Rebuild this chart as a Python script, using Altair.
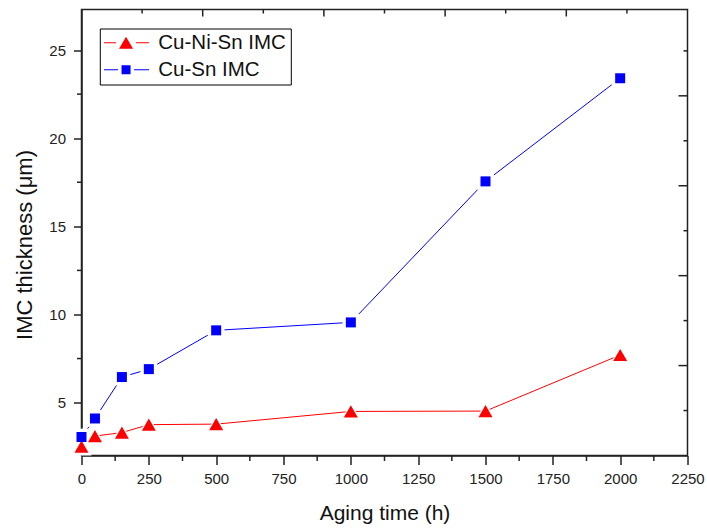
import altair as alt
import pandas as pd

# ---------------- data ----------------
aging_time = [0, 50, 150, 250, 500, 1000, 1500, 2000]
cu_ni_sn_thickness = [2.5, 3.1, 3.3, 3.75, 3.78, 4.5, 4.52, 7.7]
cu_sn_thickness = [3.05, 4.1, 6.45, 6.9, 9.1, 9.55, 17.55, 23.4]
series_names = ["Cu-Ni-Sn IMC", "Cu-Sn IMC"]
series_colors = ["#ff0000", "#0000ff"]

x_major_ticks = [0, 250, 500, 750, 1000, 1250, 1500, 1750, 2000, 2250]
x_minor_ticks = [125, 375, 625, 875, 1125, 1375, 1625, 1875, 2125]
y_major_ticks = [5, 10, 15, 20, 25]
y_minor_ticks = [2.5, 7.5, 12.5, 17.5, 22.5]
top_major_ticks = [500, 1000, 1500, 2000]
top_minor_ticks = [250, 750, 1250, 1750, 2250]
right_major_ticks = [5, 10, 15, 20]
right_minor_ticks = [2.5, 7.5, 12.5, 17.5, 22.5]

# ---------------- styles ----------------
W, H = 606, 446
AX = "#222222"
FONT = "Liberation Sans"
legend_paths = [
    "M-1,-0.06H0.2V0.06H-1Z M2.2,-0.06H3.5V0.06H2.2Z M1.2,-0.6L0.5,0.6L1.9,0.6Z",
    "M-1,-0.06H0.4V0.06H-1Z M2.0,-0.06H3.5V0.06H2.0Z M0.75,-0.45H1.65V0.45H0.75Z",
]

df = pd.DataFrame({
    "time": aging_time * 2,
    "thickness": cu_ni_sn_thickness + cu_sn_thickness,
    "series": [series_names[0]] * len(aging_time) + [series_names[1]] * len(aging_time),
})

x_scale = alt.Scale(domain=[0, 2250], nice=False, zero=False)
y_scale = alt.Scale(domain=[2, 27.3], nice=False, zero=False)
color_scale = alt.Scale(domain=series_names, range=series_colors)

x_axis = alt.Axis(
    values=x_major_ticks, title="Aging time (h)", format="d",
    titleFontSize=21, titleFontWeight="normal", titleColor="#111111", titleFont=FONT,
    titleY=64, titleBaseline="alphabetic",
    labelFontSize=15, labelColor=AX, labelFont=FONT, labelPadding=7,
    labelFlush=False, labelOverlap=False,
    tickSize=9, tickWidth=1.5, tickColor=AX,
    domainColor=AX, domainWidth=1.5, grid=False,
)
y_axis = alt.Axis(
    values=y_major_ticks, title="IMC thickness (μm)",
    titleFontSize=22, titleFontWeight="normal", titleColor="#111111", titleFont=FONT,
    titleAngle=-90, titleX=-50.5, titleY=235, titleBaseline="alphabetic", titleAlign="center",
    labelFontSize=15, labelColor=AX, labelFont=FONT, labelPadding=8,
    labelFlush=False, labelOverlap=False,
    tickSize=8, tickWidth=1.5, tickColor=AX,
    domainColor=AX, domainWidth=1.5, grid=False,
)

def X():
    return alt.X("time:Q", scale=x_scale, axis=x_axis)

def Y():
    return alt.Y("thickness:Q", scale=y_scale, axis=y_axis)

# minor ticks (left, bottom)
left_minor = alt.Chart(pd.DataFrame({"thickness": y_minor_ticks})).mark_rule(
    color=AX, strokeWidth=1.5
).encode(y=Y(), x=alt.value(-4.5), x2=alt.value(0))

bottom_minor = alt.Chart(pd.DataFrame({"time": x_minor_ticks})).mark_rule(
    color=AX, strokeWidth=1.5
).encode(x=X(), y=alt.value(H), y2=alt.value(H + 5.5))

layers = [left_minor, bottom_minor]

shapes = ["triangle-up", "square"]
sizes = [196, 100]
halo_sizes = [420, 280]
for name, col, shp, hs in zip(series_names, series_colors, shapes, halo_sizes):
    sub = alt.Chart(df).transform_filter(alt.datum.series == name)
    line = sub.mark_line(strokeWidth=1, color=col).encode(x=X(), y=Y())
    halo = sub.mark_point(filled=True, shape=shp, size=hs, color="white", opacity=1).encode(
        x=X(), y=Y()
    )
    layers += [line, halo]

for name, col, shp, sz in zip(series_names, series_colors, shapes, sizes):
    sub = alt.Chart(df).transform_filter(alt.datum.series == name)
    pts = sub.mark_point(filled=True, shape=shp, size=sz, opacity=1, color=col).encode(
        x=X(), y=Y()
    )
    layers.append(pts)

legend = alt.Legend(
    title=None, orient="none", legendX=18.3, legendY=19,
    strokeColor="black", fillColor="white", padding=4,
    symbolSize=400, symbolStrokeWidth=0,
    labelFontSize=20.5, labelFont=FONT, labelColor="#111111",
    labelOffset=34, rowPadding=6, labelLimit=400,
)
legend_layer = alt.Chart(df).transform_filter("false").mark_point(
    filled=True, size=400, opacity=1
).encode(
    x=X(), y=Y(),
    color=alt.Color("series:N", scale=color_scale, legend=legend),
    shape=alt.Shape("series:N", scale=alt.Scale(domain=series_names, range=legend_paths), legend=legend),
)
layers.append(legend_layer)

main = alt.layer(*layers)

# top and right frame ticks (pointing inward, own scales)
top_scale = alt.Scale(domain=[0, 2500], nice=False, zero=False)
right_scale = alt.Scale(domain=[0, 24.8], nice=False, zero=False)
top_major = alt.Chart(pd.DataFrame({"t": top_major_ticks})).mark_rule(color=AX, strokeWidth=1.5).encode(
    x=alt.X("t:Q", scale=top_scale, axis=None), y=alt.value(0), y2=alt.value(7),
)
top_minor = alt.Chart(pd.DataFrame({"t": top_minor_ticks})).mark_rule(color=AX, strokeWidth=1.5).encode(
    x=alt.X("t:Q", scale=top_scale, axis=None), y=alt.value(0), y2=alt.value(4),
)
top_layer = alt.layer(top_major, top_minor)

right_major = alt.Chart(pd.DataFrame({"r": right_major_ticks})).mark_rule(color=AX, strokeWidth=1.5).encode(
    y=alt.Y("r:Q", scale=right_scale, axis=None), x=alt.value(W - 9), x2=alt.value(W),
)
right_minor = alt.Chart(pd.DataFrame({"r": right_minor_ticks})).mark_rule(color=AX, strokeWidth=1.5).encode(
    y=alt.Y("r:Q", scale=right_scale, axis=None), x=alt.value(W - 4), x2=alt.value(W),
)
right_layer = alt.layer(right_major, right_minor)

chart = alt.layer(main, top_layer, right_layer).resolve_scale(
    x="independent", y="independent"
).properties(
    width=W, height=H,
    padding={"left": 81.5, "top": 9.5, "right": 19.5, "bottom": 73.5},
    autosize=alt.AutoSizeParams(type="none"),
    background="white",
).configure(font=FONT).configure_view(stroke=AX, strokeWidth=1.5)

chart.save("out.html", embed_options={"renderer": "svg", "actions": False})
